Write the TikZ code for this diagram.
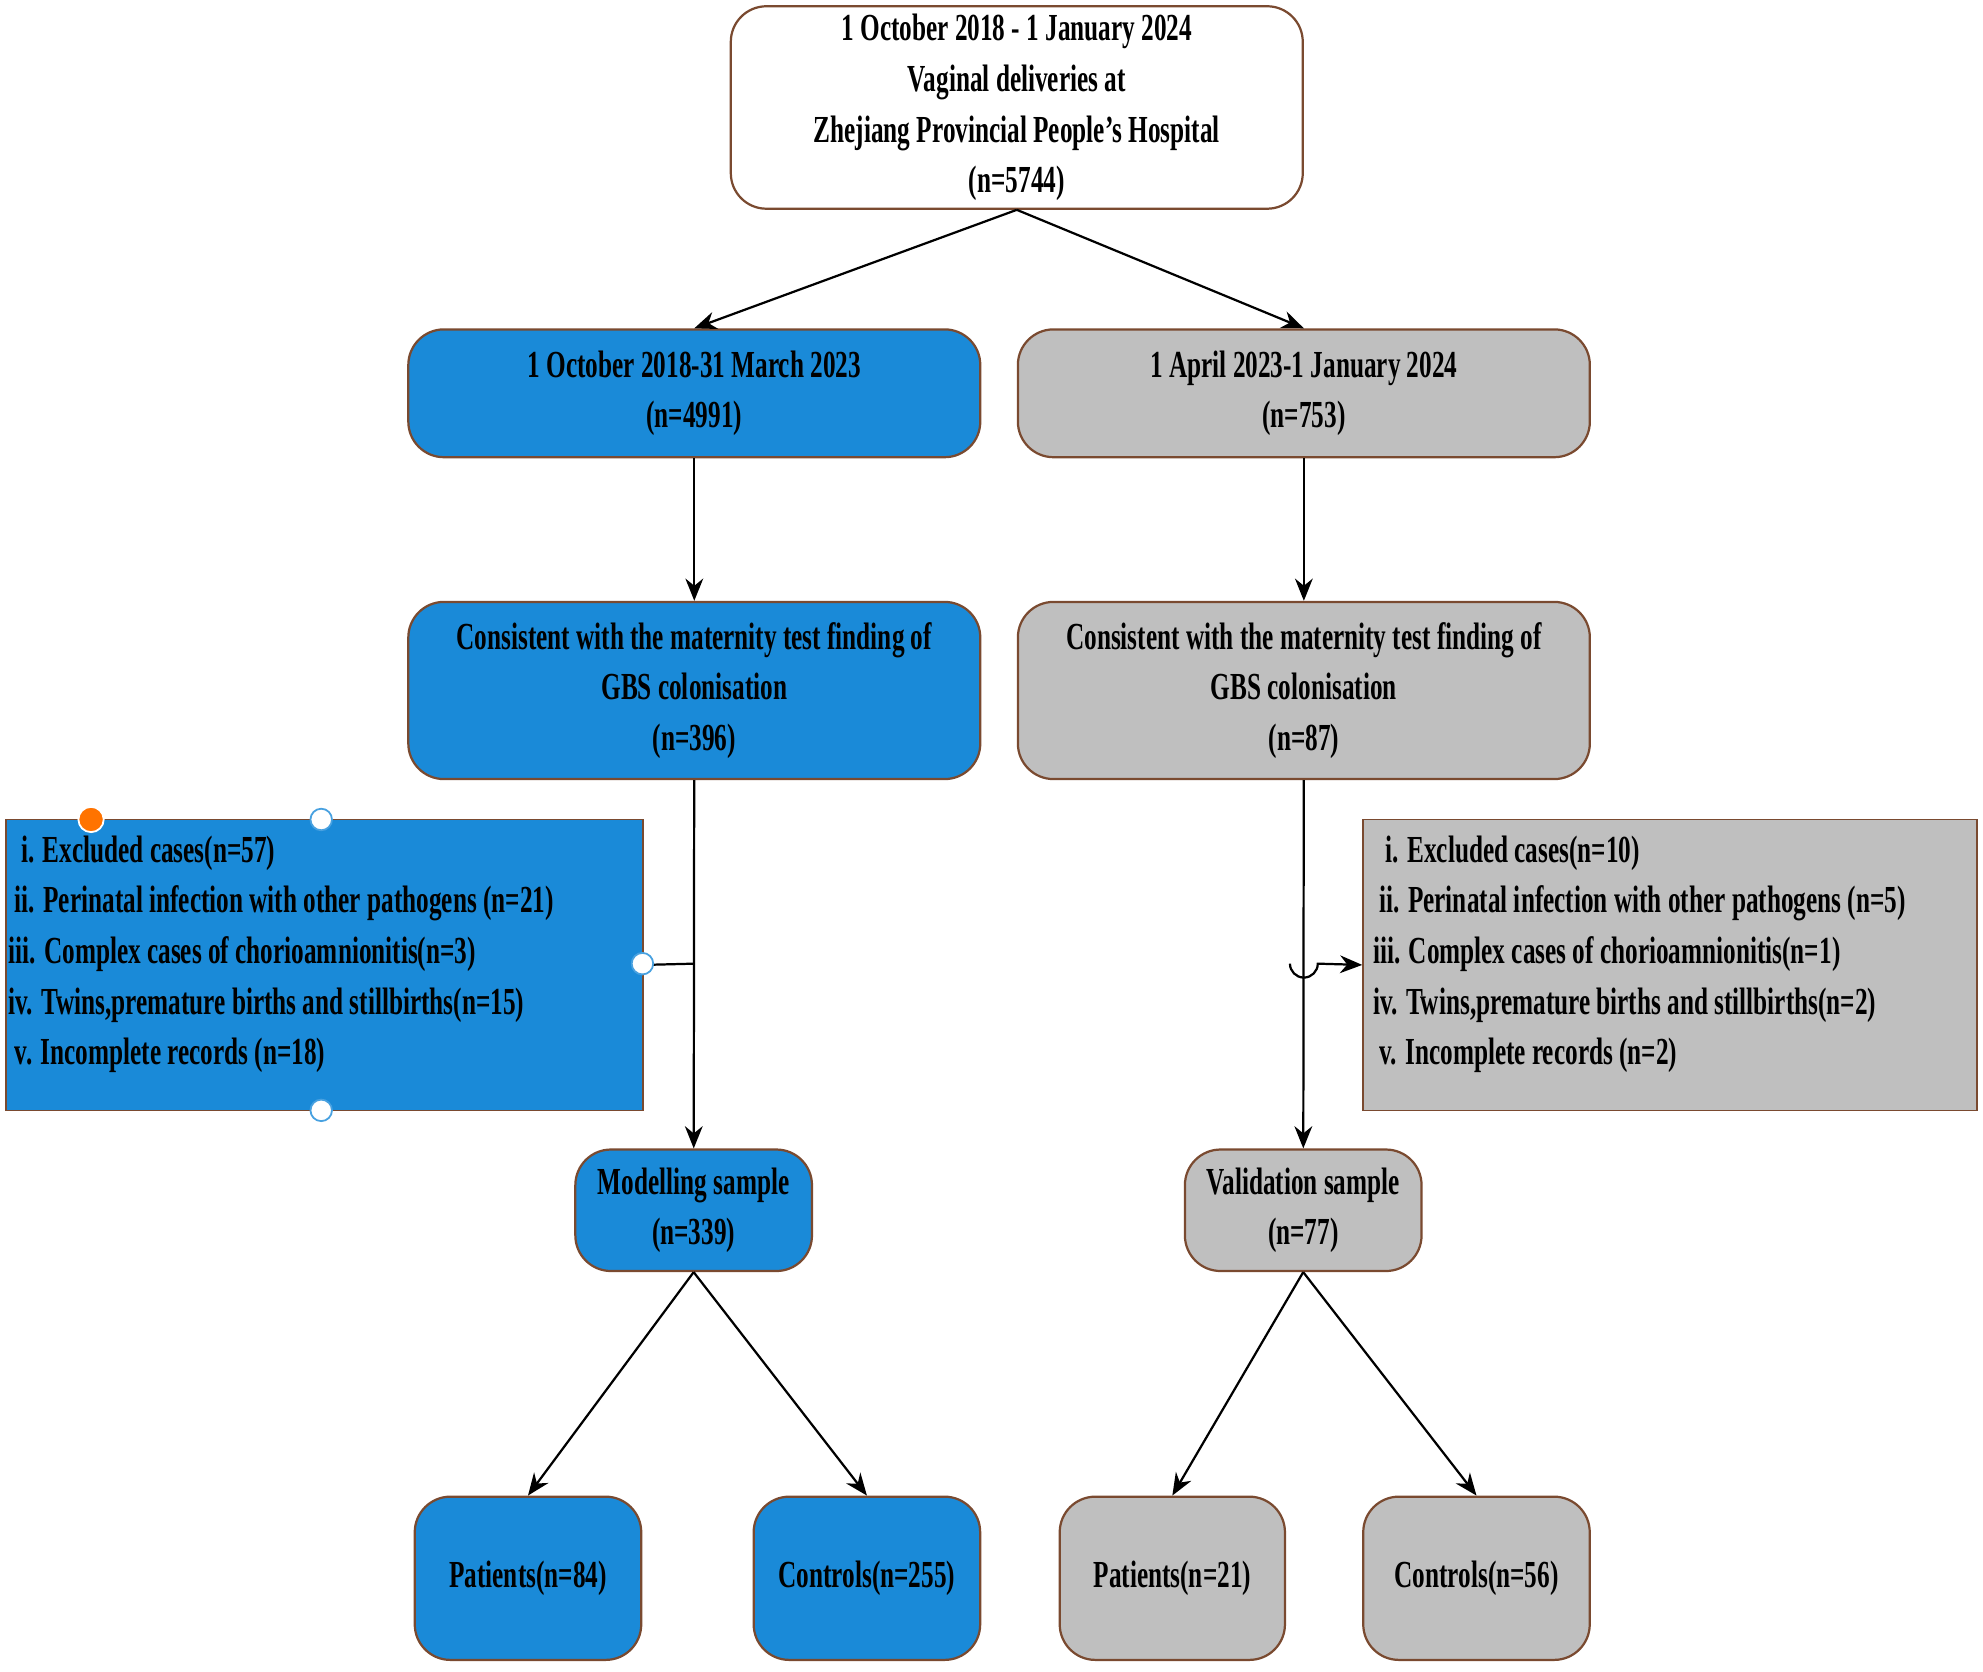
\documentclass[tikz,border=0pt]{standalone}
\usepackage{fontspec}
\setmainfont{Liberation Serif}
\usetikzlibrary{arrows.meta}
\newcommand{\nar}[1]{\scalebox{0.66}[1]{#1}}
\definecolor{bl}{HTML}{1A8AD8}
\definecolor{gr}{HTML}{BFBFBF}
\definecolor{bd}{HTML}{7A4A30}
\begin{document}
\begin{tikzpicture}[x=0.01cm,y=-0.01cm,
  font=\fontsize{8.6}{9.4}\selectfont\bfseries,
  box/.style={draw=bd,rounded corners=8pt,align=center,inner sep=0pt,line width=0.5pt},
  bb/.style={box,fill=bl},
  gb/.style={box,fill=gr},
  ar/.style={-{Stealth[length=5pt,width=4pt]},line width=0.5pt},
  hd/.style={circle,draw=bl!80,fill=white,inner sep=0pt,minimum size=0.17cm}]
\useasboundingbox (0,0) rectangle (1568,1322);
\node[box,fill=white,minimum width=4.52cm,minimum height=1.60cm] (top) at (804,85)
 {\nar{1 October 2018 - 1 January 2024}\\[2pt]\nar{Vaginal deliveries at}\\[2pt]\nar{Zhejiang Provincial People's Hospital}\\[2pt]\nar{(n=5744)}};
\node[bb,minimum width=4.52cm,minimum height=1.01cm] (b1) at (549,311) {\nar{1 October 2018-31 March 2023}\\[2pt]\nar{(n=4991)}};
\node[gb,minimum width=4.52cm,minimum height=1.01cm] (g1) at (1031,311) {\nar{1 April 2023-1 January 2024}\\[2pt]\nar{(n=753)}};
\node[bb,minimum width=4.52cm,minimum height=1.40cm] (b2) at (549,546) {\nar{Consistent with the maternity test finding of}\\[2pt]\nar{GBS colonisation}\\[2pt]\nar{(n=396)}};
\node[gb,minimum width=4.52cm,minimum height=1.40cm] (g2) at (1031,546) {\nar{Consistent with the maternity test finding of}\\[2pt]\nar{GBS colonisation}\\[2pt]\nar{(n=87)}};
\node[draw=bd,fill=bl,minimum width=5.03cm,minimum height=2.30cm,inner sep=0pt] (ex1) at (256.5,763) {};
\node[draw=bd,fill=gr,minimum width=4.85cm,minimum height=2.30cm,inner sep=0pt] (ex2) at (1320.5,763) {};
\node[anchor=north west,align=left,inner sep=0pt] (t1) at (6,660) {\nar{\ \ i. Excluded cases(n=57)}\\[2pt]\nar{\ ii. Perinatal infection with other pathogens (n=21)}\\[2pt]\nar{iii. Complex cases of chorioamnionitis(n=3)}\\[2pt]\nar{iv. Twins,premature births and stillbirths(n=15)}\\[2pt]\nar{\ v. Incomplete records (n=18)}};
\node[anchor=north west,align=left,inner sep=0pt] (t2) at (1085,660) {\nar{\ \ i. Excluded cases(n=10)}\\[2pt]\nar{\ ii. Perinatal infection with other pathogens (n=5)}\\[2pt]\nar{iii. Complex cases of chorioamnionitis(n=1)}\\[2pt]\nar{iv. Twins,premature births and stillbirths(n=2)}\\[2pt]\nar{\ v. Incomplete records (n=2)}};
\node[bb,minimum width=1.87cm,minimum height=0.96cm] (m) at (548.5,957) {\nar{Modelling sample}\\[2pt]\nar{(n=339)}};
\node[gb,minimum width=1.87cm,minimum height=0.96cm] (v) at (1030.5,957) {\nar{Validation sample}\\[2pt]\nar{(n=77)}};
\node[bb,minimum width=1.79cm,minimum height=1.29cm] (p1) at (417.5,1248) {\nar{Patients(n=84)}};
\node[bb,minimum width=1.79cm,minimum height=1.29cm] (c1) at (685.5,1248) {\nar{Controls(n=255)}};
\node[gb,minimum width=1.78cm,minimum height=1.29cm] (p2) at (927,1248) {\nar{Patients(n=21)}};
\node[gb,minimum width=1.79cm,minimum height=1.29cm] (c2) at (1167.5,1248) {\nar{Controls(n=56)}};
\coordinate (jl) at (549,762);
\coordinate (jr) at (1031,762);
\draw[ar] (top.south) -- (b1.north);
\draw[ar] (top.south) -- (g1.north);
\draw[ar] (b1) -- (b2);
\draw[ar] (g1) -- (g2);
\draw[ar] (b2) -- (m);
\draw[ar] (g2) -- (v);
\draw[line width=0.5pt] (jl) -- (ex1.east);
\draw[ar] (1020,762) arc (180:0:11) -- (ex2.west);
\draw[ar] (m.south) -- (p1.north);
\draw[ar] (m.south) -- (c1.north);
\draw[ar] (v.south) -- (p2.north);
\draw[ar] (v.south) -- (c2.north);
\node[circle,draw=white,fill=orange!90!red,inner sep=0pt,minimum size=0.2cm] (h0) at (72,648) {};
\node[hd] (h1) at (254,648) {};
\node[hd] (h2) at (508,762) {};
\node[hd] (h3) at (254,878) {};
\end{tikzpicture}
\end{document}
